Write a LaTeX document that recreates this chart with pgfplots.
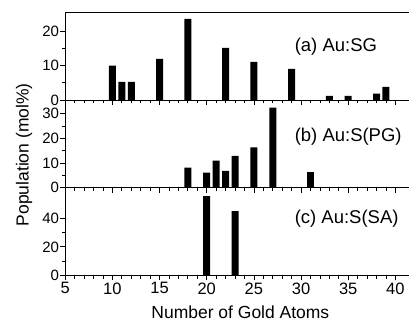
\documentclass[border=0pt]{standalone}
\usepackage{fontspec}
\setmainfont{Liberation Sans}
\usepackage{pgfplots}
\pgfplotsset{compat=1.18}
\begin{document}
\begin{tikzpicture}[x=1pt,y=1pt]
\path (0,0) rectangle (409,324);
\pgfplotsset{
  panel/.style={
    at={(65.3pt,#1)}, anchor=south west,
    width=343.7pt, height=87.7pt, scale only axis,
    xmin=5, xmax=41.4, ymin=0,
    axis x line*=bottom, axis y line*=left,
    axis line style={line width=0.8pt},
    every tick/.style={line width=0.8pt, black},
    tick align=outside,
    major tick length=5pt, minor tick length=3.5pt,
    xtick={5,10,...,40}, minor x tick num=4,
    ybar, bar width=7pt,
    clip=false,
    /pgf/number format/assume math mode=true,
    xticklabel style={font=\fontsize{16.5}{18}\selectfont, inner sep=0pt, yshift=-2pt},
    yticklabel style={font=\fontsize{15}{16}\selectfont, inner sep=0pt, xshift=-1pt},
    label style={font=\fontsize{17.5}{20}\selectfont},
  },
}
% (a)
\begin{axis}[panel=224pt, ymax=25.6, ytick={0,10,20}, minor y tick num=1, xticklabels={}]
\addplot[fill=black, draw=none] coordinates {(10,10) (11,5.3) (12,5.3) (15,12) (18,23.7) (22,15.2) (25,11.1) (29,9.1) (33,1.2) (35,1.2) (38,1.8) (39,3.8)};
\draw[line width=0.8pt] (rel axis cs:0,1) -- (rel axis cs:1,1);
\node[anchor=west, inner sep=0pt, font=\fontsize{18.5}{20}\selectfont] at (rel axis cs:0.668,0.604) {(a) Au:SG};
\end{axis}
% (b)
\begin{axis}[panel=136.3pt, ymax=35.6, ytick={0,10,20,30}, minor y tick num=1, xticklabels={},
  ylabel={Population (mol\%)}, ylabel style={at={(axis description cs:-0.12,0.373)}, anchor=center}]
\addplot[fill=black, draw=none] coordinates {(18,8.1) (20,6.1) (21,10.9) (22,6.8) (23,12.9) (25,16.3) (27,32.5) (31,6.3)};
\node[anchor=west, inner sep=0pt, font=\fontsize{18.5}{20}\selectfont] at (rel axis cs:0.668,0.58) {(b) Au:S(PG)};
\end{axis}
% (c)
\begin{axis}[panel=48.3pt, ymax=61.3, ytick={0,20,40}, minor y tick num=1,
  xlabel={Number of Gold Atoms}, xlabel style={at={(axis description cs:0.51,-0.415)}, anchor=center}]
\addplot[fill=black, draw=none] coordinates {(20,55.5) (23,45)};
\node[anchor=west, inner sep=0pt, font=\fontsize{18.5}{20}\selectfont] at (rel axis cs:0.668,0.652) {(c) Au:S(SA)};
\end{axis}
\end{tikzpicture}
\end{document}
